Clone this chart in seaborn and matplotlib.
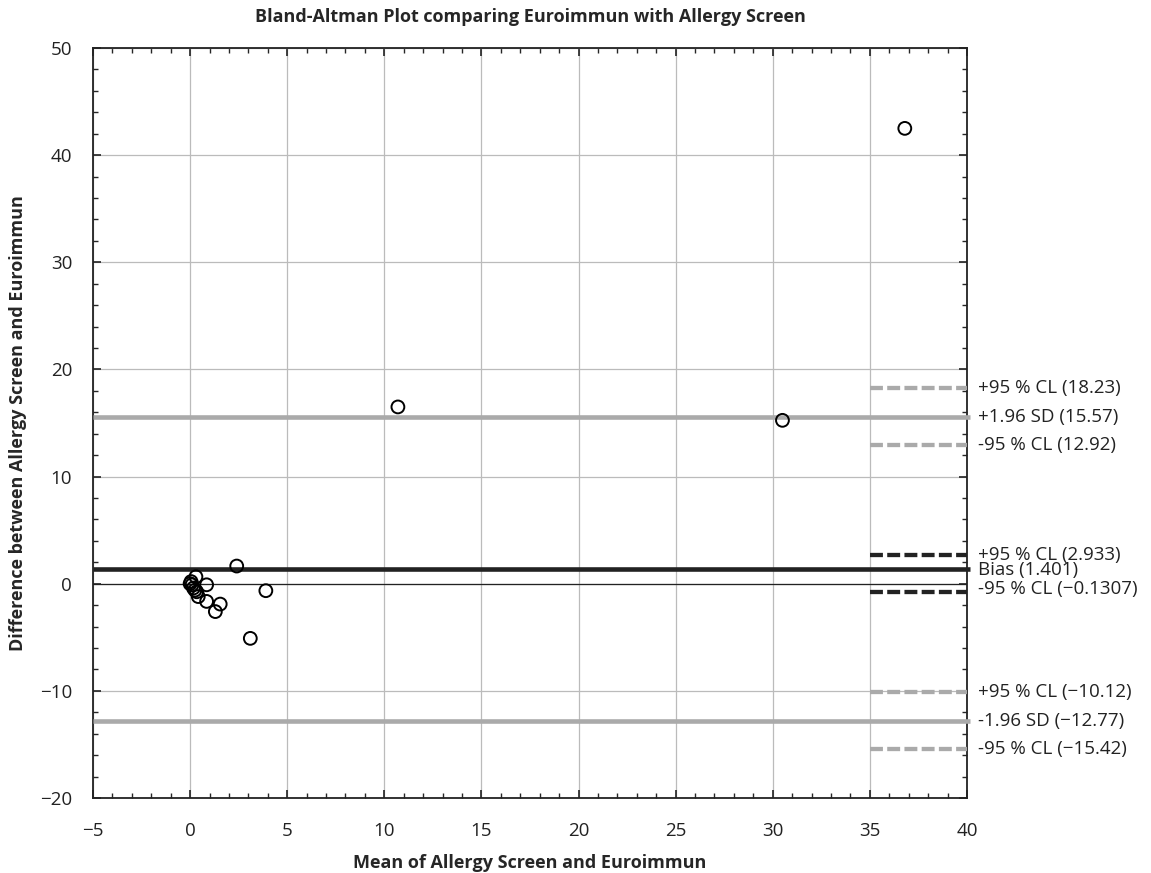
import numpy as np
import pandas as pd
import matplotlib
matplotlib.use("Agg")
import matplotlib.pyplot as plt
import seaborn as sns
from matplotlib.ticker import MultipleLocator

# points: mean of the two methods vs difference
mean_vals = [0.0, 0.05, 0.1, 0.17, 0.25, 0.3, 0.34, 0.42, 0.85, 0.85, 1.3, 1.55,
             2.4, 3.1, 3.9, 10.7, 30.5, 36.8]
diff_vals = [0.0, 0.2, -0.1, -0.4, -0.6, 0.65, -0.75, -1.2, -0.1, -1.65, -2.6, -1.9,
             1.65, -5.1, -0.65, 16.5, 15.25, 42.5]

bias = 1.401
bias_cl = [2.933, -0.1307]
# where the bias CL dashes actually sit in the picture
bias_cl_drawn = [2.7, -0.75]
upper_sd = 15.57
upper_cl = [18.23, 12.92]
lower_sd = -12.77
lower_cl = [-10.12, -15.42]

cl_start, cl_end = 35, 40

df = pd.DataFrame({"mean": mean_vals, "diff": diff_vals})

sns.set_theme(style="white")
plt.rcParams["font.family"] = ["Open Sans", "DejaVu Sans"]

fig = plt.figure(figsize=(11.51, 8.73), dpi=100)
ax = fig.add_axes([0.0808, 0.0859, 0.7593, 0.8591])

ax.set_xlim(-5, 40)
ax.set_ylim(-20, 50)
ax.grid(True, color="#bbbbbb", linewidth=0.9)
ax.set_axisbelow(True)

ax.axhline(0, color="#222222", linewidth=0.9, zorder=2)

grey = "#aaaaaa"
dark = "#222222"
for v, c in [(upper_sd, grey), (lower_sd, grey), (bias, dark)]:
    ax.plot([-5, 40.15], [v, v], color=c, linewidth=3.3, clip_on=False,
            solid_capstyle="butt", zorder=3)

for v in upper_cl + lower_cl:
    ax.plot([cl_start, cl_end], [v, v], color=grey, linewidth=3.1,
            linestyle=(0, (3, 1)), dash_capstyle="butt", zorder=3)
for v in bias_cl_drawn:
    ax.plot([cl_start, cl_end], [v, v], color=dark, linewidth=3.1,
            linestyle=(0, (3, 1)), dash_capstyle="butt", zorder=3)

sns.scatterplot(data=df, x="mean", y="diff", ax=ax, marker="o", s=85,
                facecolor="none", edgecolor="black", linewidth=1.4, zorder=4)

labels = [
    (upper_cl[0], "+95 % CL (18.23)"),
    (upper_sd, "+1.96 SD (15.57)"),
    (upper_cl[1], "-95 % CL (12.92)"),
    (bias_cl_drawn[0], f"+95 % CL ({bias_cl[0]})"),
    (bias - 0.1, f"Bias ({bias})"),
    (bias_cl_drawn[1] + 0.3, "-95 % CL (\u22120.1307)"),
    (lower_cl[0], "+95 % CL (\u221210.12)"),
    (lower_sd, "-1.96 SD (\u221212.77)"),
    (lower_cl[1], "-95 % CL (\u221215.42)"),
]
for y, txt in labels:
    ax.text(40.55, y, txt, fontsize=13.5, va="center", ha="left", color="#222222")

ax.xaxis.set_major_locator(MultipleLocator(5))
ax.xaxis.set_minor_locator(MultipleLocator(1))
ax.yaxis.set_major_locator(MultipleLocator(10))
ax.yaxis.set_minor_locator(MultipleLocator(2))
ax.tick_params(which="both", direction="in", top=True, right=True, bottom=True, left=True)
ax.tick_params(which="major", length=6, width=1.2, labelsize=13.5, colors="#222222")
ax.tick_params(which="minor", length=3.5, width=1)
ax.tick_params(axis="x", which="major", pad=17)
ax.tick_params(axis="y", which="major", pad=15)
ax.set_xticklabels([f"{int(t)}".replace("-", "\u2212") for t in ax.get_xticks()])
ax.set_yticklabels([f"{int(t)}".replace("-", "\u2212") for t in ax.get_yticks()])

for s in ax.spines.values():
    s.set_color("#222222")
    s.set_linewidth(1.3)

ax.set_title("Bland-Altman Plot comparing Euroimmun with Allergy Screen",
             fontsize=13, fontweight="bold", pad=19)
ax.set_xlabel("Mean of Allergy Screen and Euroimmun", fontsize=13, fontweight="bold", labelpad=10)
ax.set_ylabel("Difference between Allergy Screen and Euroimmun", fontsize=13, fontweight="bold")
ax.yaxis.set_label_coords(-0.0755, 0.5)

fig.savefig("out.png", dpi=100)
